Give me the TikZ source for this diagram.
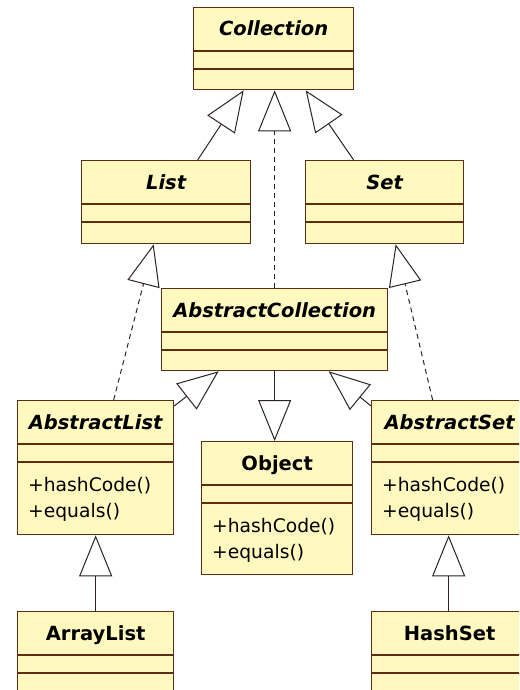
\documentclass[tikz,border=0pt]{standalone}
\usepackage{fontspec}
\setmainfont{DejaVu Sans}
\usetikzlibrary{arrows.meta}

\definecolor{classfill}{RGB}{255,249,192}
\definecolor{classedge}{RGB}{96,44,18}
\definecolor{linkcol}{RGB}{45,35,35}

\tikzset{
  classbox/.style={draw=classedge, fill=classfill, line width=1.3pt,
    rectangle, inner sep=0pt, anchor=north west},
  classline/.style={draw=classedge, line width=1.3pt},
  titlefont/.style={font=\fontsize{19.5}{20}\selectfont\bfseries},
  abstracttitle/.style={font=\fontsize{19.5}{20}\selectfont\bfseries\itshape},
  methodfont/.style={font=\fontsize{18.7}{22}\selectfont},
  gen/.style={draw=linkcol, line width=1pt,
    -{Triangle[open, length=41pt, width=33pt, line width=1pt]}},
  realize/.style={gen, dash pattern=on 5pt off 4pt},
}

% class box: name, left, top, width, height, title style, title
\newcommand\umlclass[7]{%
  \node[classbox, minimum width=#4pt, minimum height=#5pt] (#1) at (#2,#3) {};
  \draw[classline] ([yshift=-44pt]#1.north west) -- ([yshift=-44pt]#1.north east);
  \draw[classline] ([yshift=-62pt]#1.north west) -- ([yshift=-62pt]#1.north east);
  \node[anchor=base, inner sep=0pt, #6] (#1-title) at ([yshift=-29pt]#1.north) {#7};
}
% the two operations listed in the lowest compartment
\newcommand\umlops[1]{%
  \node[methodfont, anchor=base west, inner sep=0pt] (#1-op1)
    at ([xshift=11pt, yshift=-91pt]#1.north west) {+hashCode()};
  \node[methodfont, anchor=base west, inner sep=0pt] (#1-op2)
    at ([xshift=11pt, yshift=-117pt]#1.north west) {+equals()};
}

\begin{document}
\begin{tikzpicture}[x=1pt, y=-1pt]
  \fill[white] (0,0) rectangle (519,690);
  \useasboundingbox (0,0) rectangle (519,690);
  \clip (0,0) rectangle (519,690);

  % classes
  \umlclass{coll}{193}{7}{160}{82}{abstracttitle}{Collection}
  \umlclass{list}{81}{160}{169}{83}{abstracttitle}{List}
  \umlclass{set}{305}{160}{158}{83}{abstracttitle}{Set}
  \umlclass{absc}{161}{288}{226}{82}{abstracttitle}{AbstractCollection}
  \umlclass{alist}{17}{400}{156}{134}{abstracttitle}{AbstractList}
  \umlops{alist}
  \umlclass{obj}{201}{441}{151}{133}{titlefont}{Object}
  \umlops{obj}
  % the right-hand column runs on past the right margin
  \umlclass{aset}{371}{400}{176}{134}{abstracttitle, xshift=-10pt}{AbstractSet}
  \umlops{aset}
  \umlclass{arrl}{17}{611}{156}{82}{titlefont}{ArrayList}
  \umlclass{hset}{371}{611}{176}{82}{titlefont, xshift=-10pt}{HashSet}

  % generalisations
  \draw[gen] ([xshift=31.5pt]list.north) -- ([xshift=-30pt]coll.south);
  \draw[gen] ([xshift=-31pt]set.north) -- ([xshift=32pt]coll.south);
  \draw[gen] ([yshift=-6pt]alist.north east) -- ([xshift=-56pt]absc.south);
  \draw[gen] ([yshift=-6pt]aset.north west) -- ([xshift=54pt]absc.south);
  \draw[gen] (absc.south) -- (absc.south |- obj.north);
  \draw[gen] (arrl.north) -- (alist.south);
  \draw[gen] ([xshift=-11pt]hset.north) -- ([xshift=-11pt]aset.south);

  % realisations
  \draw[realize] (absc.north) -- (absc.north |- coll.south);
  \draw[realize] ([xshift=18pt]alist.north) -- ([xshift=-12.5pt]list.south);
  \draw[realize] ([xshift=-27pt]aset.north) -- ([xshift=11pt]set.south);
\end{tikzpicture}
\end{document}
